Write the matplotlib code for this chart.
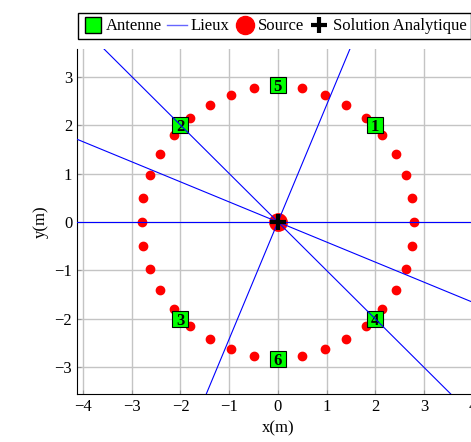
import matplotlib
matplotlib.use("Agg")
import matplotlib.pyplot as plt
from matplotlib.lines import Line2D

# positions des antennes
ant_x = [2, -2, -2, 2, 0, 0]
ant_y = [2, 2, -2, -2, 2.83, -2.83]
ant_labels = ["1", "2", "3", "4", "5", "6"]

# points rouges (cercle)
pts_x = [2.80, 2.76, 2.63, 2.42, 2.14, 1.80, 1.40, 0.96, 0.49, 0.00, -0.49, -0.96,
         -1.40, -1.80, -2.14, -2.42, -2.63, -2.76, -2.80, -2.76, -2.63, -2.42, -2.14, -1.80,
         -1.40, -0.96, -0.49, 0.00, 0.49, 0.96, 1.40, 1.80, 2.14, 2.42, 2.63, 2.76]
pts_y = [0.00, 0.49, 0.96, 1.40, 1.80, 2.14, 2.42, 2.63, 2.76, 2.80, 2.76, 2.63,
         2.42, 2.14, 1.80, 1.40, 0.96, 0.49, 0.00, -0.49, -0.96, -1.40, -1.80, -2.14,
         -2.42, -2.63, -2.76, -2.80, -2.76, -2.63, -2.42, -2.14, -1.80, -1.40, -0.96, -0.49]

# lieux : droites passant par l'origine
lieux_pentes = [0.0, -1.0, -0.414, 2.414]

source = (0, 0)
solution = (0, 0)

plt.rcParams['font.family'] = ['Liberation Serif', 'DejaVu Serif']
plt.rcParams['font.size'] = 12

fig = plt.figure(figsize=(4.71, 4.42), dpi=100)
ax = fig.add_axes([0.1635, 0.1086, 0.853, 0.7805])

ax.set_xlim(-4.125, 4.125)
ax.set_ylim(-3.55, 3.57)
ax.set_xticks([-4, -3, -2, -1, 0, 1, 2, 3, 4])
ax.set_yticks([-3, -2, -1, 0, 1, 2, 3])
ax.grid(True, color='#c4c4c4', linewidth=1.0, zorder=0)
ax.set_axisbelow(True)
ax.spines['top'].set_visible(False)
ax.spines['right'].set_visible(False)
ax.tick_params(direction='in', length=3, color='#999999', labelsize=12)

ax.plot(pts_x, pts_y, 'o', color='red', markersize=6, zorder=2)

ax.plot(ant_x, ant_y, 's', markerfacecolor='#00ff00', markeredgecolor='black',
        markeredgewidth=0.8, markersize=11, linestyle='none', zorder=3)
for x, y, lab in zip(ant_x, ant_y, ant_labels):
    ax.text(x, y, lab, ha='center', va='center_baseline', fontsize=12,
            fontweight='bold', zorder=3.5)

ax.plot(*source, 'o', color='red', markersize=12.5, zorder=4)

for s in lieux_pentes:
    ax.axline((0, 0), slope=s, color='blue', linewidth=0.8, zorder=5)

ax.plot(*solution, '+', color='black', markersize=11, markeredgewidth=3, zorder=6)

ax.set_xlabel('x(m)')
ax.set_ylabel('y(m)')

handles = [
    Line2D([], [], marker='s', color='none', markerfacecolor='#00ff00',
           markeredgecolor='black', markersize=11),
    Line2D([], [], color='#6666ff', linewidth=1.0),
    Line2D([], [], marker='o', color='none', markerfacecolor='red',
           markeredgecolor='red', markersize=13),
    Line2D([], [], marker='+', color='none', markeredgecolor='black',
           markersize=12, markeredgewidth=3),
]
leg = ax.legend(handles, ['Antenne', 'Lieux', 'Source', 'Solution Analytique'],
                loc='lower center', bbox_to_anchor=(0.492, 1.028), ncol=4,
                frameon=True, fancybox=False, edgecolor='black', framealpha=1,
                handlelength=1.2, handletextpad=0.2, columnspacing=0.3,
                borderaxespad=0, borderpad=0.3, fontsize=12)
leg.get_frame().set_linewidth(1.0)

fig.savefig('out.png', dpi=100)
